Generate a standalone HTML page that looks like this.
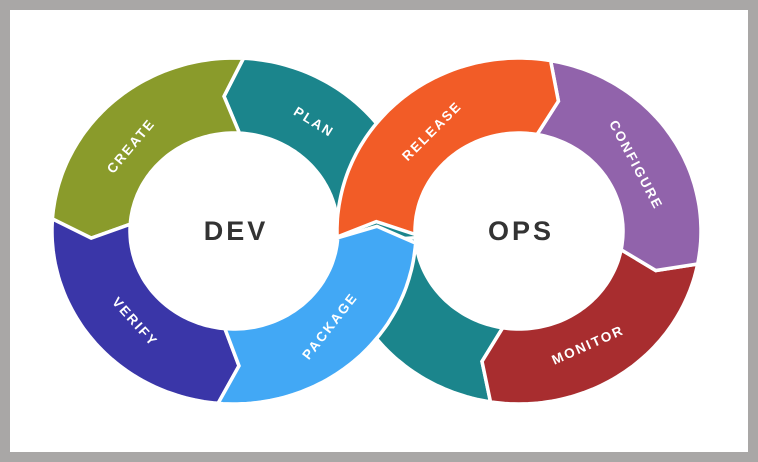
<!DOCTYPE html>
<html><head><meta charset="utf-8"><style>
html,body{margin:0;padding:0;background:#a9a7a6;}
#f{position:absolute;left:10px;top:10px;width:738px;height:442px;background:#fff;}
svg{position:absolute;left:0;top:0;}
text{font-family:"Liberation Sans",sans-serif;font-weight:bold;fill:#fff;}
</style></head><body>
<div id="f"></div>
<svg id="s" width="758" height="462" viewBox="0 0 758 462"></svg>
<script>
var NS="http://www.w3.org/2000/svg",s=document.getElementById('s');
var RO=[182,173],RI=[104,98],RM=[143,135];
function P(c,R,a){a=a*Math.PI/180;return [c[0]+R[0]*Math.cos(a),c[1]+R[1]*Math.sin(a)];}
function arc(c,R,a0,a1){var pts=[],n=Math.max(2,Math.ceil(Math.abs(a1-a0)/1.5));for(var i=0;i<=n;i++)pts.push(P(c,R,a0+(a1-a0)*i/n));return pts;}
function seg(c,s0,n0,e1,h1,col,sw){
 var pts=[];
 pts=pts.concat(arc(c,RO,s0,e1));
 if(h1!==null)pts.push(P(c,RM,h1));
 pts=pts.concat(arc(c,RI,e1,s0));
 if(n0!==null)pts.push(P(c,RM,n0));
 var p=document.createElementNS(NS,'path');
 p.setAttribute('d','M'+pts.map(function(q){return q[0].toFixed(1)+' '+q[1].toFixed(1)}).join('L')+'Z');
 p.setAttribute('fill',col);p.setAttribute('stroke',sw===0?col:'#fff');p.setAttribute('stroke-width',sw===0?'0':'3.5');p.setAttribute('stroke-linejoin','miter');
 s.appendChild(p);
}
var L=[234,231],R=[519,231];
var teal='#1b858c';
seg(L,4,null,-87,-94,teal);
seg(R,99,105,176,null,teal);
seg(L,-87,-94,-176,-183,'#8a9b2b');
seg(L,-176,-183,-265,-272,'#3a36a8');
seg(R,11,17,99,105,'#a82d2f');
seg(R,280,286,371,377,'#9163ab');
seg(L,-265,-272,-356,-362,'#42a8f5');
seg(R,178,184,280,286,'#f25c27');
function t(x,y,r,txt,sz,ls,fill){
 var e=document.createElementNS(NS,'text');
 e.setAttribute('x',x);e.setAttribute('y',y);e.setAttribute('text-anchor','middle');e.setAttribute('dominant-baseline','central');
 e.setAttribute('transform','rotate('+r+' '+x+' '+y+')');e.setAttribute('font-size',sz);e.setAttribute('letter-spacing',ls);
 if(fill)e.setAttribute('style','fill:'+fill);
 e.textContent=txt;s.appendChild(e);
}
t(131,146,-50,'CREATE',13.5,2);
t(314,122,32,'PLAN',13.5,2);
t(135,322,48,'VERIFY',13.5,2);
t(330,326,-52,'PACKAGE',13.5,2);
t(432,131,-45,'RELEASE',13.5,2);
t(636,165,62,'CONFIGURE',13.5,2);
t(588,345,-24,'MONITOR',13.5,2);
t(236,231,0,'DEV',27,3,'#333');
t(521,231,0,'OPS',27,3,'#333');
</script>
</body></html>
